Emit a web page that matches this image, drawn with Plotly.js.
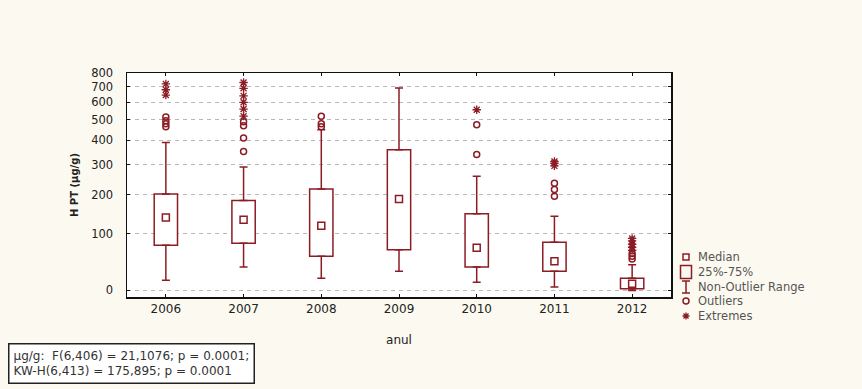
<!DOCTYPE html>
<html>
<head>
<meta charset="utf-8">
<script src="https://cdn.plot.ly/plotly-3.0.1.min.js"></script>
<style>html,body{margin:0;padding:0;background:#fcfaf0;}#chart{width:862px;height:389px;}</style>
</head>
<body>
<div id="chart"></div>
<script>
// ---- data (µg/g) ----
const years = ['2006', '2007', '2008', '2009', '2010', '2011', '2012'];
const lowerWhisker = [15, 36, 18, 29, 12, 5, 0];
const q1 = [76, 80, 55, 67, 36, 29, 2.5];
const median = [138, 132, 118, 187, 71, 46, 9.6];
const q3 = [202, 183, 217, 359, 147, 82, 18];
const upperWhisker = [390, 291, 450, 692, 258, 141, 40];
const outliers = [
  [465, 480, 495, 515],
  [352, 410, 470, 490],
  [465, 480, 520],
  [],
  [339, 475],
  [195, 215, 235],
  [50, 55, 60]
];
const extremes = [
  [645, 680, 720],
  [520, 560, 600, 640, 690, 730],
  [],
  [],
  [556],
  [295, 305, 312],
  [66, 72, 78, 85, 90]
];
const yTicks = [0, 100, 200, 300, 400, 500, 600, 700, 800];
const statsText = ['µg/g:  F(6,406) = 21,1076; p = 0.0001;', 'KW-H(6,413) = 175,895; p = 0.0001'];

// axis transform used by the original chart: log(value + OFFSET)
const OFFSET = 180;
const T = v => v + OFFSET;

const RED = '#8c1c24';

function flat(groups) {
  const xs = [], ys = [];
  groups.forEach((g, i) => g.forEach(v => { xs.push(years[i]); ys.push(T(v)); }));
  return {xs, ys};
}
const out = flat(outliers), ext = flat(extremes);

const traces = [
  { // upper whiskers
    type: 'scatter', mode: 'markers', x: years, y: q3.map(T),
    marker: {size: 1, color: 'rgba(0,0,0,0)'},
    error_y: {type: 'data', symmetric: false,
      array: upperWhisker.map((u, i) => u - q3[i]), arrayminus: years.map(() => 0),
      color: RED, thickness: 1.5, width: 4},
    showlegend: false
  },
  { // lower whiskers
    type: 'scatter', mode: 'markers', x: years, y: q1.map(T),
    marker: {size: 1, color: 'rgba(0,0,0,0)'},
    error_y: {type: 'data', symmetric: false,
      array: years.map(() => 0), arrayminus: q1.map((q, i) => q - lowerWhisker[i]),
      color: RED, thickness: 1.5, width: 4},
    showlegend: false
  },
  { // 25%-75% boxes
    type: 'bar', x: years, base: q1.map(T), y: q3.map((v, i) => v - q1[i]),
    width: 0.3, marker: {color: 'white', line: {color: RED, width: 1.5}},
    showlegend: false
  },
  { // medians
    type: 'scatter', mode: 'markers', x: years, y: median.map(T),
    marker: {symbol: 'square-open', size: 7, color: RED, line: {width: 1.5, color: RED}},
    showlegend: false
  },
  { // outliers
    type: 'scatter', mode: 'markers', x: out.xs, y: out.ys,
    marker: {symbol: 'circle-open', size: 6, color: RED, line: {width: 1.5, color: RED}},
    showlegend: false
  },
  { // extremes
    type: 'scatter', mode: 'markers', x: ext.xs, y: ext.ys,
    marker: {symbol: 'asterisk-open', size: 7, color: RED, line: {width: 1.3, color: RED}},
    showlegend: false
  }
];

// plot-area pixel box, for the hand-drawn legend
const X0 = 127, X1 = 671, Y0 = 73, Y1 = 297;
const px = x => (x - X0) / (X1 - X0);
const py = y => (Y1 - y) / (Y1 - Y0);
const P = (x, y) => px(x).toFixed(5) + ',' + py(y).toFixed(5);

const lx = 686;
const rows = [257, 272, 287, 301, 316];
const labels = ['Median', '25%-75%', 'Non-Outlier Range', 'Outliers', 'Extremes'];
const shapes = [
  {type: 'rect', xref: 'paper', yref: 'paper', x0: px(lx - 3), x1: px(lx + 3), y0: py(rows[0] - 3), y1: py(rows[0] + 3), line: {color: RED, width: 1.5}},
  {type: 'rect', xref: 'paper', yref: 'paper', x0: px(lx - 5.5), x1: px(lx + 5.5), y0: py(rows[1] - 6.5), y1: py(rows[1] + 6.5), line: {color: RED, width: 1.5}},
  {type: 'path', xref: 'paper', yref: 'paper', path: 'M' + P(lx, rows[2] - 6) + 'L' + P(lx, rows[2] + 6) + 'M' + P(lx - 4, rows[2] - 6) + 'L' + P(lx + 4, rows[2] - 6) + 'M' + P(lx - 4, rows[2] + 6) + 'L' + P(lx + 4, rows[2] + 6), line: {color: RED, width: 1.5}},
  {type: 'circle', xref: 'paper', yref: 'paper', x0: px(lx - 3), x1: px(lx + 3), y0: py(rows[3] - 3), y1: py(rows[3] + 3), line: {color: RED, width: 1.5}},
  {type: 'path', xref: 'paper', yref: 'paper', path: 'M' + P(lx - 3.5, rows[4]) + 'L' + P(lx + 3.5, rows[4]) + 'M' + P(lx, rows[4] - 3.5) + 'L' + P(lx, rows[4] + 3.5) + 'M' + P(lx - 2.5, rows[4] - 2.5) + 'L' + P(lx + 2.5, rows[4] + 2.5) + 'M' + P(lx - 2.5, rows[4] + 2.5) + 'L' + P(lx + 2.5, rows[4] - 2.5), line: {color: RED, width: 1.3}}
];
const annotations = labels.map((t, i) => ({
  xref: 'paper', yref: 'paper', x: px(lx + 10), y: py(rows[i]), xanchor: 'left', yanchor: 'middle',
  text: t, showarrow: false, font: {family: 'DejaVu Sans', size: 11.5, color: '#555'}
}));
annotations.push({
  xref: 'paper', yref: 'paper', x: px(8), y: py(343), xanchor: 'left', yanchor: 'top',
  text: statsText.join('<br>'), align: 'left', showarrow: false,
  bgcolor: 'white', bordercolor: '#222', borderwidth: 1.5, borderpad: 4,
  font: {family: 'DejaVu Sans', size: 12, color: '#333'}
});

const layout = {
  width: 862, height: 389,
  margin: {l: X0, r: 862 - X1, t: Y0, b: 389 - Y1},
  paper_bgcolor: '#fcfaf0', plot_bgcolor: 'white',
  showlegend: false, hovermode: false, bargap: 0,
  font: {family: 'DejaVu Sans', color: '#222'},
  xaxis: {
    type: 'category', range: [-0.5, 6.5],
    showline: true, linecolor: '#111', linewidth: 1.5, mirror: 'allticks',
    ticks: 'inside', ticklen: 3, tickcolor: '#111',
    showgrid: false, zeroline: false,
    tickfont: {family: 'DejaVu Sans', size: 12, color: '#222'},
    title: {text: 'anul', font: {family: 'DejaVu Sans', size: 12, color: '#222'}, standoff: 20}
  },
  yaxis: {
    type: 'log', range: [Math.log10(T(-9)), Math.log10(T(800))],
    tickvals: yTicks.map(T), ticktext: yTicks.map(String),
    showline: true, linecolor: '#111', linewidth: 1.5, mirror: 'allticks',
    ticks: 'inside', ticklen: 3, tickcolor: '#111',
    showgrid: true, gridcolor: '#b8b8b8', griddash: '4px,4px', gridwidth: 1,
    zeroline: false, ticklabelstandoff: 10,
    tickfont: {family: 'DejaVu Sans', size: 11.5, color: '#222'},
    title: {text: '<b>H PT (µg/g)</b>', font: {family: 'DejaVu Sans', size: 10, color: '#222'}, standoff: 10}
  },
  shapes: shapes,
  annotations: annotations
};

Plotly.newPlot('chart', traces, layout, {displayModeBar: false, staticPlot: true});
</script>
</body>
</html>
